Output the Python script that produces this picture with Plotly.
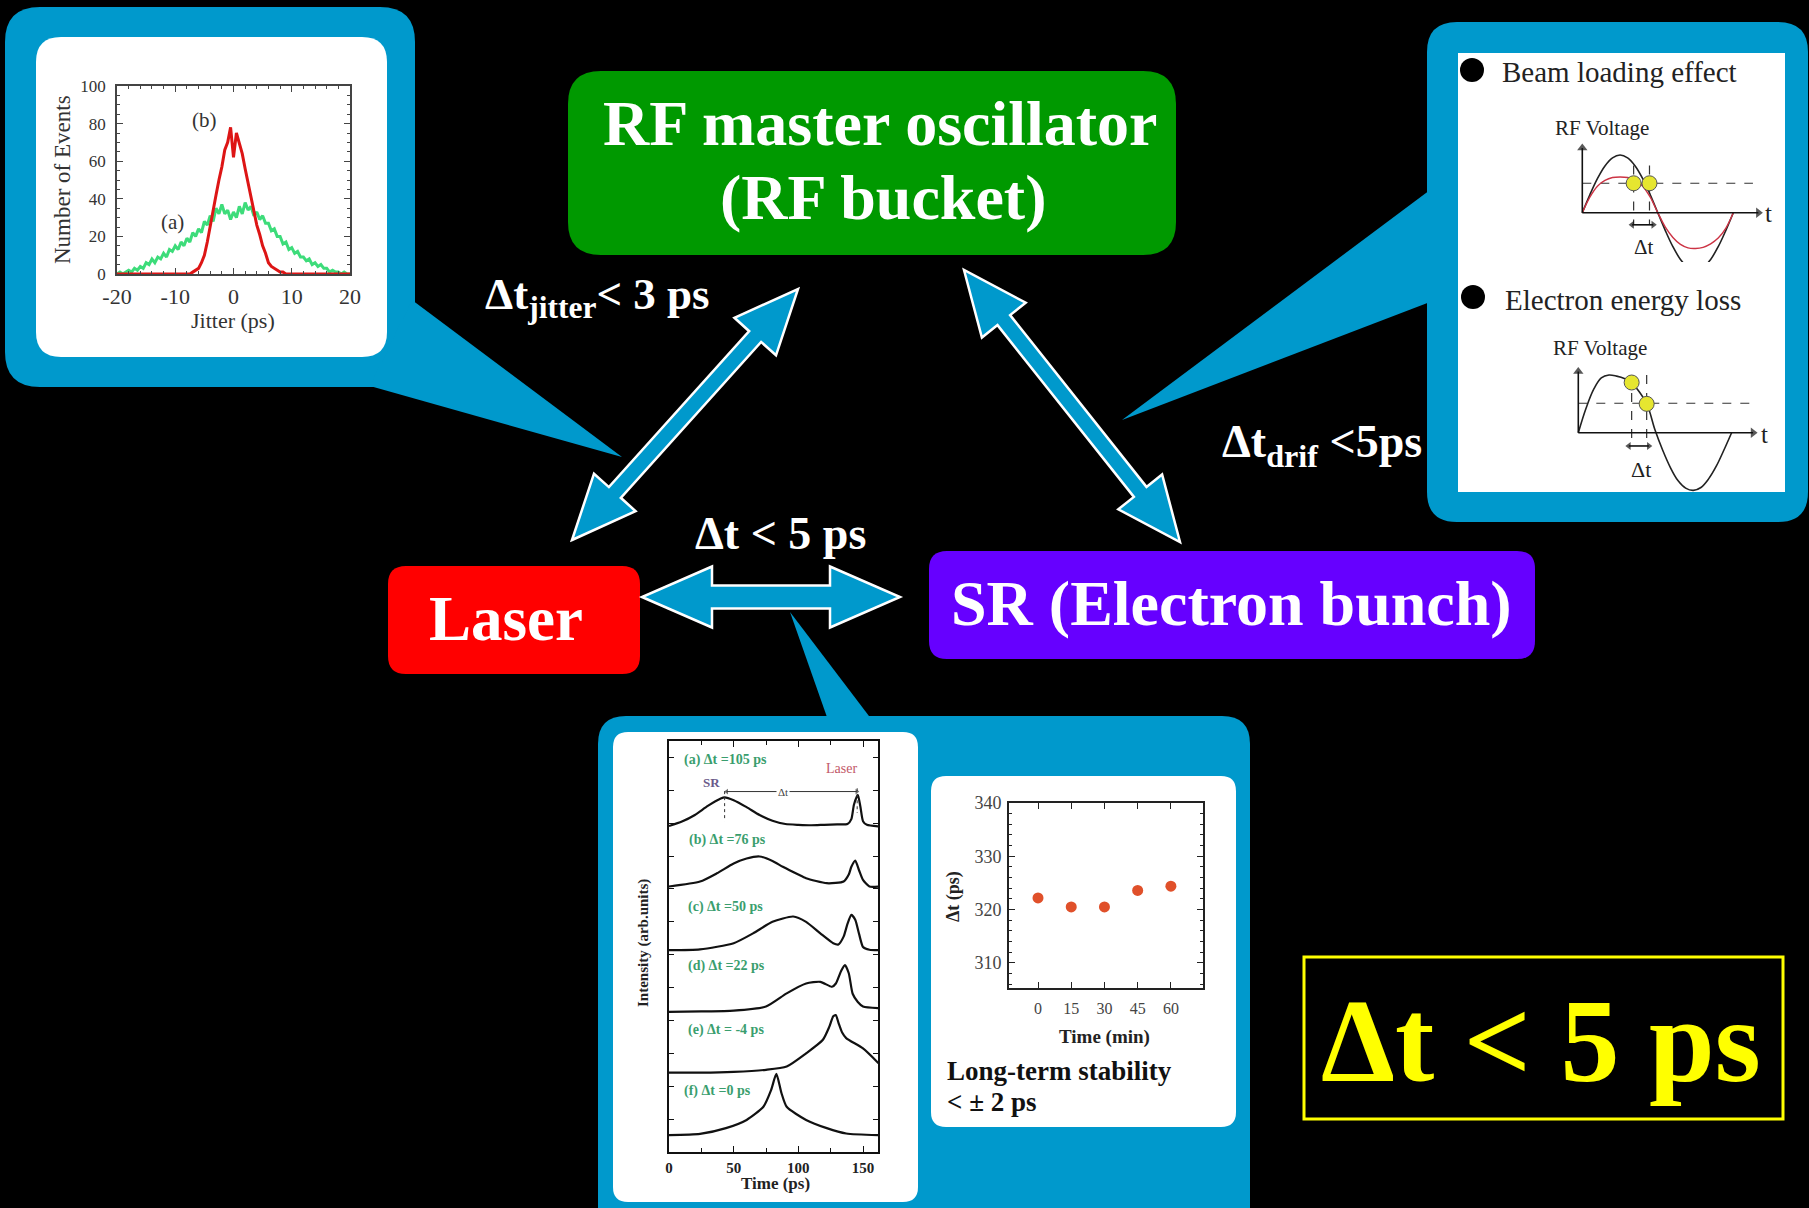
import plotly.graph_objects as go
import numpy as np

W, H = 1809, 1208
SERIF = "Liberation Serif, Times New Roman, serif"
BLUE = "#0099cc"

# ---------------- data: jitter histogram (Number of events vs jitter, ps) ----------------
jitter_x = [-20, -19.5, -19, -18.5, -18, -17.5, -17, -16.5, -16, -15.5,
            -15, -14.5, -14, -13.5, -13, -12.5, -12, -11.5, -11, -10.5,
            -10, -9.5, -9, -8.5, -8, -7.5, -7, -6.5, -6, -5.5,
            -5, -4.5, -4, -3.5, -3, -2.5, -2, -1.5, -1, -0.5,
            0, 0.5, 1, 1.5, 2, 2.5, 3, 3.5, 4, 4.5,
            5, 5.5, 6, 6.5, 7, 7.5, 8, 8.5, 9, 9.5,
            10, 10.5, 11, 11.5, 12, 12.5, 13, 13.5, 14, 14.5,
            15, 15.5, 16, 16.5, 17, 17.5, 18, 18.5, 19, 19.5, 20]
jitter_a = [0, 1, 0, 1, 2, 1, 3, 2, 4, 3,
            6, 5, 8, 6, 9, 8, 11, 9, 13, 12,
            15, 13, 17, 15, 19, 17, 22, 20, 24, 22,
            28, 26, 31, 28, 35, 32, 37, 32, 34, 29,
            33, 30, 36, 32, 38, 34, 36, 31, 33, 29,
            31, 27, 27, 23, 24, 20, 20, 16, 17, 13,
            14, 11, 12, 9, 9, 7, 8, 5, 6, 4,
            5, 3, 3, 1, 2, 1, 1, 0, 1, 0, 0]
jitter_b = [0, 0, 0, 0, 0, 0, 0, 0, 0, 0,
            0, 0, 0, 0, 0, 0, 0, 0, 0, 0,
            0, 0, 0, 0, 0, 0, 1, 2, 3, 6,
            10, 17, 26, 35, 42, 50, 57, 66, 70, 78,
            62, 75, 70, 64, 56, 48, 41, 34, 26, 21,
            15, 11, 6, 4, 3, 2, 1, 1, 0, 0,
            0, 0, 0, 0, 0, 0, 0, 0, 0, 0,
            0, 0, 0, 0, 0, 0, 0, 0, 0, 0, 0]

# ---------------- data: RF voltage sketches (t in periods, V relative) ----------------
rf1_t = [0, .05, .1, .15, .2, .25, .3, .35, .4, .45, .5, .55, .6, .65, .7, .75, .8, .85, .9, .95, 1.0]
rf1_black = [0, .31, .59, .81, .95, 1.0, .95, .81, .59, .31, 0, -.31, -.59, -.81, -.95, -1.0, -.95, -.81, -.59, -.31, 0]
rf1_red = [0, .27, .46, .56, .61, .62, .61, .57, .46, .27, 0, -.25, -.43, -.55, -.61, -.62, -.6, -.54, -.44, -.27, 0]
rf1_level = 0.51
rf1_dots_t = [0.34, 0.445]
rf2_t = [0, .05, .1, .15, .2, .25, .3, .35, .4, .45, .5, .55, .6, .65, .7, .75, .8, .85, .9, .95, 1.0]
rf2_black = [0, .42, .75, .95, 1.0, .98, .94, .86, .7, .48, .05, -.3, -.6, -.83, -.96, -1.0, -.95, -.8, -.58, -.3, 0]
rf2_level = 0.51
rf2_dots_t = [0.348, 0.446]
rf2_dots_v = [0.87, 0.50]

# ---------------- data: streak camera profiles (Time ps, intensity arb. units, offset) ----------------
sa_t = [0, 10, 20, 30, 40, 43, 50, 60, 70, 80, 90, 100, 110, 120, 130, 138, 141, 143, 146, 148, 150, 153, 162]
sa_v = [79.3, 80.4, 82.0, 84.2, 86.0, 86.3, 85.6, 83.9, 82.0, 80.6, 79.8, 79.6, 79.5, 79.6, 79.7, 79.8, 81.0, 84.5, 86.9, 84.0, 80.5, 79.6, 79.2]
sb_t = [0, 24, 37, 50, 60, 70, 80, 88, 100, 106, 122, 135, 139, 141, 144, 147, 150, 155, 162]
sb_v = [64.6, 65.8, 67.8, 70.2, 71.4, 71.9, 70.8, 69.4, 67.5, 66.6, 65.4, 65.8, 67.5, 69.4, 70.9, 68.5, 66.2, 64.6, 64.6]
sc_t = [0, 24, 50, 65, 80, 96, 106, 117, 127, 131, 135, 138, 141, 144, 147, 150, 155, 162]
sc_v = [49.1, 49.3, 50.8, 53.2, 56.0, 57.3, 56.0, 53.2, 50.8, 50.5, 52.4, 55.5, 57.7, 56.5, 53.0, 49.9, 49.2, 49.1]
sd_t = [0, 25, 50, 75, 91, 106, 117, 126, 129, 133, 136, 139, 142, 146, 150, 162]
sd_v = [34.1, 34.2, 34.4, 35.4, 38.6, 41.0, 41.4, 40.2, 41.0, 44.0, 45.5, 43.5, 38.5, 36.5, 35.4, 35.0]
se_t = [0, 25, 50, 75, 91, 106, 119, 124, 127, 129, 131, 134, 137, 150, 162]
se_v = [19.3, 19.3, 19.5, 20.0, 20.8, 24.0, 27.3, 30.5, 33.0, 33.3, 31.5, 29.0, 27.7, 25.2, 21.6]
sf_t = [0, 24, 44, 60, 73, 79, 83, 87, 91, 106, 122, 137, 162]
sf_v = [4.1, 4.4, 5.8, 7.8, 11.0, 15.1, 19.0, 14.3, 11.0, 7.8, 5.8, 4.5, 4.1]
streak_labels = ["(a) Δt =105 ps", "(b) Δt =76 ps", "(c) Δt =50 ps",
                 "(d) Δt =22 ps", "(e) Δt = -4 ps", "(f) Δt =0 ps"]
streak_peak_sr, streak_peak_laser = 43, 145.5

# ---------------- data: long-term stability ----------------
stab_time = [0, 15, 30, 45, 60]
stab_dt = [322.2, 320.5, 320.5, 323.6, 324.4]

# ---------------- helpers ----------------
def dom(x0, x1, y0, y1):
    return [x0 / W, x1 / W], [1 - y1 / H, 1 - y0 / H]


def rrect(x0, y0, x1, y1, r):
    return (f"M{x0+r},{y0} L{x1-r},{y0} Q{x1},{y0} {x1},{y0+r} L{x1},{y1-r} "
            f"Q{x1},{y1} {x1-r},{y1} L{x0+r},{y1} Q{x0},{y1} {x0},{y1-r} "
            f"L{x0},{y0+r} Q{x0},{y0} {x0+r},{y0} Z")


def poly(pts):
    return "M" + " L".join(f"{x:.1f},{y:.1f}" for x, y in pts) + " Z"


def double_arrow(x0, y0, x1, y1, sw, hw, hl):
    p0, p1 = np.array([x0, y0], float), np.array([x1, y1], float)
    u = (p1 - p0) / np.linalg.norm(p1 - p0)
    n = np.array([-u[1], u[0]])
    b0, b1 = p0 + u * hl, p1 - u * hl
    pts = [p0, b0 + n * hw / 2, b0 + n * sw / 2, b1 + n * sw / 2, b1 + n * hw / 2, p1,
           b1 - n * hw / 2, b1 - n * sw / 2, b0 - n * sw / 2, b0 - n * hw / 2]
    return poly(pts)


shapes = []
def add_path(path, fill, line_color=None, lw=0, layer="below"):
    shapes.append(dict(type="path", path=path, xref="x", yref="y", fillcolor=fill,
                       line=dict(color=line_color or fill, width=lw), layer=layer))

# callouts (blue) + white panels
add_path(rrect(5, 7, 415, 387, 35), BLUE)
add_path(poly([(412, 300), (622, 457), (370, 386)]), BLUE)
add_path(rrect(36, 37, 387, 357, 25), "white")
add_path(rrect(1427, 22, 1808, 522, 30), BLUE)
add_path(poly([(1430, 190), (1122, 420), (1430, 302)]), BLUE)
add_path(poly([(1458, 53), (1785, 53), (1785, 492), (1458, 492)]), "white")
add_path(rrect(598, 716, 1250, 1250, 28), BLUE)
add_path(poly([(790, 612), (828, 720), (872, 720)]), BLUE)
add_path(rrect(613, 732, 918, 1202, 15), "white")
add_path(rrect(931, 776, 1236, 1127, 15), "white")
# node boxes
add_path(rrect(568, 71, 1176, 255, 33), "#009900")
add_path(rrect(388, 566, 640, 674, 18), "#ff0000")
add_path(rrect(929, 551, 1535, 659, 18), "#6600ff")
# yellow frame
shapes.append(dict(type="rect", xref="x", yref="y", x0=1304, y0=957, x1=1783, y1=1119,
                   line=dict(color="#ffff00", width=3), fillcolor="rgba(0,0,0,0)", layer="below"))
# bullets
for cx, cy in [(1472, 70), (1473, 297)]:
    shapes.append(dict(type="circle", xref="x", yref="y", x0=cx - 12, x1=cx + 12, y0=cy - 12, y1=cy + 12,
                       fillcolor="black", line=dict(width=0), layer="below"))
# big arrows
add_path(double_arrow(642, 597, 900, 597, 23, 61, 70), BLUE, "white", 2.5, "above")
add_path(double_arrow(572, 540, 798, 289, 16, 56, 64), BLUE, "white", 2.5, "above")
add_path(double_arrow(964, 270, 1180, 542, 16, 56, 64), BLUE, "white", 2.5, "above")

fig = go.Figure()
fig.add_trace(go.Scatter(x=[0], y=[0], mode="markers", marker=dict(opacity=0), xaxis="x", yaxis="y"))

# jitter histograms
fig.add_trace(go.Scatter(x=jitter_x, y=jitter_a, mode="lines", line=dict(color="#3ddc7a", width=3),
                         xaxis="x2", yaxis="y2"))
fig.add_trace(go.Scatter(x=jitter_x, y=jitter_b, mode="lines", line=dict(color="#dd1515", width=3),
                         xaxis="x2", yaxis="y2"))


def arrow_line(xs, ys, symbols, xa, ya, color="#111", width=1.6, size=9):
    """Line with triangle markers as arrowheads (None symbol -> hidden)."""
    sizes = [size if s else 0 for s in symbols]
    syms = [s if s else "circle" for s in symbols]
    fig.add_trace(go.Scatter(x=xs, y=ys, mode="lines+markers", line=dict(color=color, width=width),
                             marker=dict(symbol=syms, size=sizes, color=color, line=dict(width=0)),
                             xaxis=xa, yaxis=ya))


# RF sketches
dash = dict(color="#333", width=1.2, dash="dash")
for xa, ya, lvl, dots_t, vtop, vbot, hend in [("x3", "y3", rf1_level, rf1_dots_t, 0.82, -0.2, 1.13),
                                               ("x4", "y4", rf2_level, rf2_dots_t, 1.0, -0.25, 1.12)]:
    fig.add_trace(go.Scatter(x=[0, hend], y=[lvl, lvl], mode="lines", line=dash, xaxis=xa, yaxis=ya))
    for tt in dots_t:
        fig.add_trace(go.Scatter(x=[tt, tt], y=[vtop, vbot], mode="lines", line=dash, xaxis=xa, yaxis=ya))

fig.add_trace(go.Scatter(x=rf1_t, y=rf1_black, mode="lines", line=dict(color="#222", width=1.6, shape="spline"),
                         xaxis="x3", yaxis="y3"))
fig.add_trace(go.Scatter(x=rf1_t, y=rf1_red, mode="lines", line=dict(color="#cc3344", width=1.4, shape="spline"),
                         xaxis="x3", yaxis="y3"))
fig.add_trace(go.Scatter(x=rf2_t, y=rf2_black, mode="lines", line=dict(color="#222", width=1.6, shape="spline"),
                         xaxis="x4", yaxis="y4"))

for xa, ya, ytop, xend, yarr, t0, t1 in [("x3", "y3", 1.12, 1.166, -0.21, 0.33, 0.47),
                                         ("x4", "y4", 1.06, 1.14, -0.23, 0.33, 0.46)]:
    arrow_line([0, 0], [0, ytop], [None, "triangle-up"], xa, ya)
    arrow_line([0, xend], [0, 0], [None, "triangle-right"], xa, ya)
    arrow_line([t0, t1], [yarr, yarr], ["triangle-left", "triangle-right"], xa, ya, size=7)

fig.add_trace(go.Scatter(x=rf1_dots_t, y=[rf1_level, rf1_level], mode="markers",
                         marker=dict(size=15, color="#e6e630", line=dict(color="#555", width=1)),
                         xaxis="x3", yaxis="y3"))
fig.add_trace(go.Scatter(x=rf2_dots_t, y=rf2_dots_v, mode="markers",
                         marker=dict(size=15, color="#e6e630", line=dict(color="#555", width=1)),
                         xaxis="x4", yaxis="y4"))

# streak profiles
for tt, vv in [(sa_t, sa_v), (sb_t, sb_v), (sc_t, sc_v), (sd_t, sd_v), (se_t, se_v), (sf_t, sf_v)]:
    fig.add_trace(go.Scatter(x=tt, y=vv, mode="lines", line=dict(color="#111", width=2.2, shape="spline", smoothing=0.6),
                             xaxis="x5", yaxis="y5"))
for tp, (v0, v1) in [(streak_peak_sr, (87.8, 80.5)), (streak_peak_laser, (88.5, 82.5))]:
    fig.add_trace(go.Scatter(x=[tp, tp], y=[v0, v1], mode="lines", line=dict(color="#333", width=1, dash="dot"),
                             xaxis="x5", yaxis="y5"))
arrow_line([streak_peak_sr + 1.6, streak_peak_laser - 0.3], [87.7, 87.7], ["triangle-left", "triangle-right"],
           "x5", "y5", color="#333", width=1, size=5)

# stability
fig.add_trace(go.Scatter(x=stab_time, y=stab_dt, mode="markers",
                         marker=dict(size=11, color="#e0502a"), xaxis="x6", yaxis="y6"))

fig.update_traces(showlegend=False, hoverinfo="skip")

inv = dict(visible=False, showgrid=False, zeroline=False, fixedrange=True)


def framed(domain, rng, anchor, lc="#444", lw=1.5, **kw):
    d = dict(domain=domain, range=rng, anchor=anchor, showline=True, mirror="ticks", linecolor=lc,
             linewidth=lw, ticks="inside", tickcolor=lc, showgrid=False, zeroline=False, fixedrange=True,
             automargin=False)
    d.update(kw)
    return d


jx, jy = dom(117, 350, 86, 274)
r1x, r1y = dom(1560, 1785, 135, 262)
r2x, r2y = dom(1560, 1785, 355, 492)
sx, sy = dom(669, 878, 741, 1152)
tx, ty = dom(1009, 1203, 803, 988)


def lrange(p0, p1, origin, ppu):
    return [(p0 - origin) / ppu, (p1 - origin) / ppu]


def lrange_y(p0, p1, origin, ppu):
    return [(origin - p1) / ppu, (origin - p0) / ppu]


tickfont_j = dict(family=SERIF, size=17, color="#333")
layout = dict(
    width=W, height=H, autosize=False, margin=dict(l=0, r=0, t=0, b=0, pad=0, autoexpand=False),
    paper_bgcolor="black", plot_bgcolor="rgba(0,0,0,0)", showlegend=False, shapes=shapes,
    xaxis=dict(domain=[0, 1], range=[0, W], anchor="y", **inv),
    yaxis=dict(domain=[0, 1], range=[H, 0], anchor="x", **inv),
    xaxis2=framed(jx, [-20, 20], "y2", tickvals=[-20, -10, 0, 10, 20], ticktext=["-20", "-10", "0", "10", "20"],
                  ticklen=6, tickfont=dict(family=SERIF, size=22, color="#333"), ticklabelstandoff=2,
                  minor=dict(ticks="inside", dtick=2, ticklen=3, tickcolor="#444")),
    yaxis2=framed(jy, [0, 100], "x2", tickvals=[0, 20, 40, 60, 80, 100], ticklen=6, tickfont=tickfont_j,
                  ticklabelstandoff=6, minor=dict(ticks="inside", dtick=5, ticklen=3, tickcolor="#444")),
    xaxis3=dict(domain=r1x, range=lrange(1560, 1785, 1582.3, 151), anchor="y3", **inv),
    yaxis3=dict(domain=r1y, range=lrange_y(135, 262, 212.7, 57.7), anchor="x3", **inv),
    xaxis4=dict(domain=r2x, range=lrange(1560, 1785, 1578.3, 153.3), anchor="y4", **inv),
    yaxis4=dict(domain=r2y, range=lrange_y(355, 492, 432.7, 57.7), anchor="x4", **inv),
    xaxis5=framed(sx, [0, 161.6], "y5", lc="#111", lw=2, tickvals=[0, 50, 100, 150], ticklen=6,
                  tickfont=dict(family=SERIF, size=15, color="#222", weight="bold"), ticklabelstandoff=1,
                  minor=dict(ticks="inside", dtick=25, ticklen=4, tickcolor="#111")),
    yaxis5=framed(sy, [0, 100], "x5", lc="#111", lw=2, dtick=8, ticklen=5, showticklabels=False),
    xaxis6=framed(tx, [-13.1, 74.5], "y6", lc="#222", lw=2, tickvals=[0, 15, 30, 45, 60], ticklen=6,
                  tickfont=dict(family=SERIF, size=16, color="#444"), ticklabelstandoff=5),
    yaxis6=framed(ty, [305.3, 340], "x6", lc="#222", lw=2, tickvals=[310, 320, 330, 340], ticklen=6,
                  tickfont=dict(family=SERIF, size=18, color="#444"), ticklabelstandoff=2,
                  minor=dict(ticks="inside", dtick=2, ticklen=3, tickcolor="#222")),
)

ann = []


def txt(text, x, y, size, color="white", bold=True, xa="center", ya="top", ref=("x", "y"), angle=0, bg=None):
    d = dict(text=text, x=x, y=y, xref=ref[0], yref=ref[1], xanchor=xa, yanchor=ya, showarrow=False,
             textangle=angle,
             font=dict(family=SERIF, size=size, color=color, weight="bold" if bold else "normal"))
    if bg:
        d["bgcolor"] = bg
    ann.append(d)


txt("RF master oscillator", 880, 86, 64)
txt("(RF bucket)", 883, 160, 64)
txt("Laser", 506, 582, 63)
txt("SR (Electron bunch)", 1231, 566, 64)
txt("Δt &lt; 5 ps", 780, 506, 46)
txt("Δt<sub>jitter</sub>&lt; 3 ps", 483, 267, 45, xa="left")
txt("Δt<sub>drif</sub> &lt;5ps", 1220, 414, 46, xa="left")
txt("Δt &lt; 5 ps", 1541, 974, 118, color="#ffff00")

txt("Beam loading effect", 1500, 54, 29, color="#222", bold=False, xa="left")
txt("Electron energy loss", 1503, 282, 29, color="#222", bold=False, xa="left")
txt("RF Voltage", 1602, 114, 21, color="#222", bold=False)
txt("RF Voltage", 1600, 334, 21, color="#222", bold=False)
txt("t", 1768, 198, 25, color="#222", bold=False)
txt("t", 1764, 419, 25, color="#222", bold=False)
txt("Δt", 1644, 233, 21, color="#222", bold=False)
txt("Δt", 1641, 455, 22, color="#222", bold=False)

txt("Number of Events", 62, 180, 23, color="#333", bold=False, ya="middle", angle=-90)
txt("Jitter (ps)", 233, 320, 22, color="#333", bold=False, ya="middle")
txt("(b)", 204, 120, 21, color="#333", bold=False, ya="middle")
txt("(a)", 172, 222, 21, color="#333", bold=False, ya="middle")

lab_pos = [(9.8, 95.5), (14, 75.9), (13, 59.7), (13.4, 45.3), (13, 29.7), (10.3, 14.9)]
for s, (lx, ly) in zip(streak_labels, lab_pos):
    txt(s, lx, ly, 14, color="#3a9e6e", xa="left", ya="middle", ref=("x5", "y5"))
txt("Laser", 133, 93.4, 14, color="#c25868", bold=False, xa="center", ya="middle", ref=("x5", "y5"))
txt("SR", 32.5, 90, 13, color="#6a5a8a", bold=True, ya="middle", ref=("x5", "y5"))
txt("Δt", 88.4, 87.7, 11, color="#444", bold=False, ya="middle", ref=("x5", "y5"), bg="white")
txt("Intensity (arb.units)", 643, 943, 15, color="#222", ya="middle", angle=-90)
txt("Time (ps)", 775, 1183, 17, color="#222", ya="middle")

txt("Δt (ps)", 953, 897, 18, color="#222", ya="middle", angle=-90)
txt("Time (min)", 1104, 1037, 19, color="#222", ya="middle")
txt("Long-term stability", 945, 1054, 27, color="#111", xa="left")
txt("&lt; ± 2 ps", 945, 1085, 27, color="#111", xa="left")

layout["annotations"] = ann
fig.update_layout(**layout)

fig.write_html("out.html", config={"displayModeBar": False},
               post_script="document.body.style.margin='0';document.body.style.overflow='hidden';")
